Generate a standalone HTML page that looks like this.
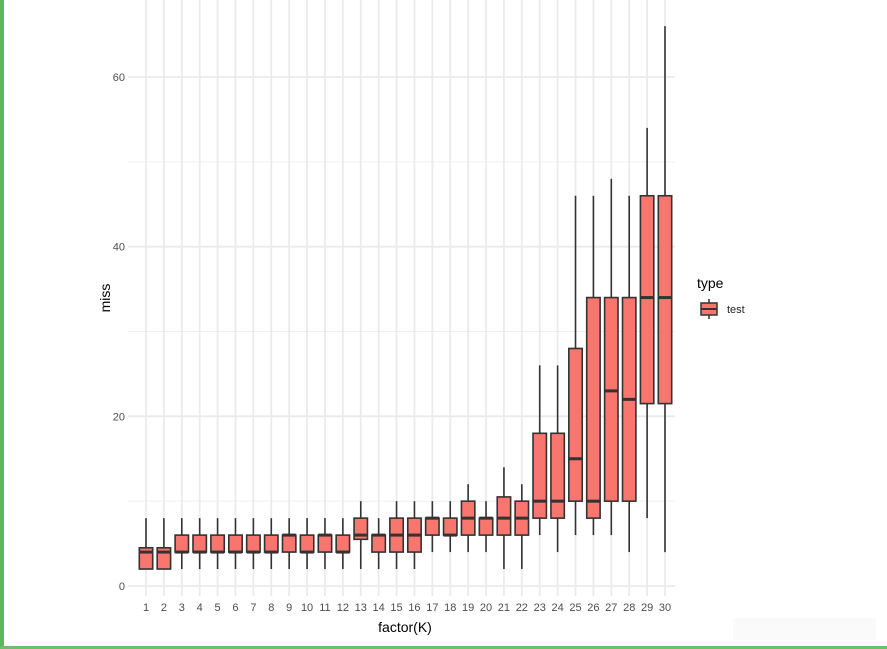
<!DOCTYPE html>
<html><head><meta charset="utf-8"><style>
body{margin:0;background:#fff;}
svg{display:block;font-family:"Liberation Sans",sans-serif;}
</style></head><body>
<svg id="c" width="887" height="649">
<rect x="0" y="0" width="4" height="649" fill="#5cb85c"/>
<rect x="0" y="646" width="887" height="3" fill="#6cbf6c"/>
<rect x="733" y="618" width="143" height="22" fill="#fafafa"/>
<g id="grid"></g><g id="boxes"></g><g id="axes"></g>
<text x="110" y="298" transform="rotate(-90 110 298)" text-anchor="middle" font-size="14" fill="#000">miss</text>
<text x="405" y="632" text-anchor="middle" font-size="14" fill="#000">factor(K)</text>
<g>
<text x="697" y="288" font-size="14" fill="#000">type</text>
<line x1="709" y1="299" x2="709" y2="319" stroke="#333" stroke-width="1.5"/>
<rect x="701" y="303" width="16" height="12" fill="#F8766D" stroke="#333" stroke-width="1.5"/>
<line x1="701" y1="309" x2="717" y2="309" stroke="#333" stroke-width="2"/>
<text x="727" y="313" font-size="11" fill="#222">test</text>
</g>
</svg>
<script>
const categories=["1","2","3","4","5","6","7","8","9","10","11","12","13","14","15","16","17","18","19","20","21","22","23","24","25","26","27","28","29","30"];
const lowWhisker=[2,2,2,2,2,2,2,2,2,2,2,2,2,2,2,2,4,4,4,4,2,2,6,4,6,6,6,4,8,4];
const q1=[2,2,4,4,4,4,4,4,4,4,4,4,5.5,4,4,4,6,6,6,6,6,6,8,8,10,8,10,10,21.5,21.5];
const medians=[4,4,4,4,4,4,4,4,6,4,6,4,6,6,6,6,8,6,8,8,8,8,10,10,15,10,23,22,34,34];
const q3=[4.5,4.5,6,6,6,6,6,6,6,6,6,6,8,6,8,8,8,8,10,8,10.5,10,18,18,28,34,34,34,46,46];
const highWhisker=[8,8,8,8,8,8,8,8,8,8,8,8,10,8,10,10,10,10,12,10,14,12,26,26,46,46,48,46,54,66];
const yTicks=[0,20,40,60];
const yMinor=[10,30,50];
const NS="http://www.w3.org/2000/svg";
const L=128,R=675,T=0,B=596;
const xs=i=>146+i*(665-146)/(categories.length-1);
const ys=v=>586-v*(586-77)/60;
function mk(t,a,p){const e=document.createElementNS(NS,t);for(const k in a)e.setAttribute(k,a[k]);p.appendChild(e);return e;}
const g=document.getElementById('grid'),bx=document.getElementById('boxes'),ax=document.getElementById('axes');
yMinor.forEach(v=>{const l=mk('line',{x1:L,x2:R,y1:ys(v),y2:ys(v),stroke:'#f0f0f0','stroke-width':1},g);

});
yTicks.forEach(v=>{const l=mk('line',{x1:L,x2:R,y1:ys(v),y2:ys(v),stroke:'#ebebeb','stroke-width':1.8},g);


const t=mk('text',{x:L-3,y:ys(v)+4,'text-anchor':'end','font-size':11,fill:'#4d4d4d'},ax);t.textContent=v;

});
categories.forEach((c,i)=>{const x=xs(i);
const l=mk('line',{x1:x,x2:x,y1:T,y2:B,stroke:'#ebebeb','stroke-width':1.8},g);


const t=mk('text',{x:x,y:611,'text-anchor':'middle','font-size':11,fill:'#4d4d4d'},ax);t.textContent=c;


const grp=mk('g',{},bx);


mk('line',{x1:x,x2:x,y1:ys(highWhisker[i]),y2:ys(q3[i]),stroke:'#333','stroke-width':1.6},grp);
mk('line',{x1:x,x2:x,y1:ys(q1[i]),y2:ys(lowWhisker[i]),stroke:'#333','stroke-width':1.6},grp);
const w=13.4;
mk('rect',{x:x-w/2,y:ys(q3[i]),width:w,height:ys(q1[i])-ys(q3[i]),fill:'#F8766D',stroke:'#333','stroke-width':1.6},grp);
mk('line',{x1:x-w/2,x2:x+w/2,y1:ys(medians[i]),y2:ys(medians[i]),stroke:'#333','stroke-width':3},grp);
});
</script>
</body></html>
